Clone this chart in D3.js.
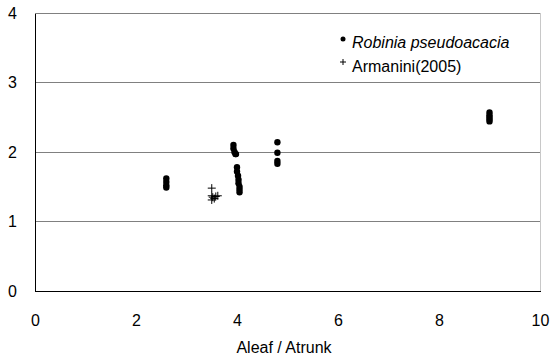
<html>
<head>
  <script src="https://d3js.org/d3.v7.min.js"></script>
  <style>
    body { margin: 0; background: #fff; }
    text { font-family: "Liberation Sans", Arial, sans-serif; }
  </style>
</head>
<body>
  <script>
    // Robinia pseudoacacia measurements
    var robiniaX = [2.6, 2.6, 2.6, 2.6,
                    3.93, 3.93, 3.95, 3.97, 3.98,
                    4.0, 4.0, 4.02, 4.03, 4.03, 4.05, 4.05, 4.05,
                    4.8, 4.8, 4.8, 4.8,
                    9.0, 9.0, 9.0, 9.0, 9.0];
    var robiniaY = [1.62, 1.57, 1.52, 1.49,
                    2.1, 2.05, 2.0, 1.97, 1.97,
                    1.78, 1.72, 1.66, 1.6, 1.55, 1.5, 1.46, 1.42,
                    2.14, 1.99, 1.87, 1.83,
                    2.57, 2.53, 2.5, 2.47, 2.44];
    // Armanini (2005)
    var armaniniX = [3.5, 3.5, 3.52, 3.5, 3.58, 3.62, 3.55];
    var armaniniY = [1.48, 1.37, 1.35, 1.31, 1.36, 1.37, 1.33];

    var xTicks = [0, 2, 4, 6, 8, 10];
    var yTicks = [0, 1, 2, 3, 4];

    var W = 551, H = 361;
    var mLeft = 35, mRight = 540, mTop = 13, mBottom = 291;

    var svg = d3.select('body').append('svg')
      .attr('width', W).attr('height', H);

    var x = d3.scaleLinear().domain([0, 10]).range([mLeft, mRight]);
    var y = d3.scaleLinear().domain([0, 4]).range([mBottom, mTop]);

    // gridlines
    svg.selectAll('line.grid')
      .data(yTicks.slice(1))
      .enter().append('line')
        .attr('class', 'grid')
        .attr('x1', mLeft).attr('x2', mRight)
        .attr('y1', function(d){ return y(d); })
        .attr('y2', function(d){ return y(d); })
        .attr('stroke', '#808080').attr('stroke-width', 1)
        .attr('shape-rendering', 'crispEdges');

    // right border
    svg.append('line')
      .attr('x1', mRight).attr('x2', mRight)
      .attr('y1', mTop).attr('y2', mBottom)
      .attr('stroke', '#c8c8c8')
      .attr('shape-rendering', 'crispEdges');

    // axes
    var yAxis = svg.append('g')
      .attr('transform', 'translate(' + mLeft + ',0)')
      .call(d3.axisLeft(y).tickValues(yTicks).tickFormat(d3.format('d')).tickSize(0).tickPadding(18));
    var xAxis = svg.append('g')
      .attr('transform', 'translate(0,' + mBottom + ')')
      .call(d3.axisBottom(x).tickValues(xTicks).tickFormat(d3.format('d')).tickSize(0).tickPadding(24));
    [yAxis, xAxis].forEach(function(g){
      g.select('.domain').attr('stroke', '#000').attr('shape-rendering', 'crispEdges');
      g.selectAll('text').attr('font-size', 16).attr('fill', '#000')
        .style('font-family', '"Liberation Sans", Arial, sans-serif');
    });

    svg.append('text')
      .attr('x', 284).attr('y', 353)
      .attr('text-anchor', 'middle')
      .attr('font-size', 16)
      .text('Aleaf / Atrunk');

    // points
    svg.selectAll('circle.rob')
      .data(robiniaX)
      .enter().append('circle')
        .attr('class', 'rob')
        .attr('cx', function(d){ return x(d); })
        .attr('cy', function(d, i){ return y(robiniaY[i]); })
        .attr('r', 3.2)
        .attr('fill', '#000');

    svg.selectAll('path.arm')
      .data(armaniniX)
      .enter().append('path')
        .attr('class', 'arm')
        .attr('transform', function(d, i){ return 'translate(' + x(d) + ',' + y(armaniniY[i]) + ')'; })
        .attr('d', 'M-4,0H4M0,-4V4')
        .attr('stroke', '#000').attr('stroke-width', 1).attr('fill', 'none');

    // legend
    var leg = svg.append('g');
    leg.append('circle').attr('cx', 343).attr('cy', 39).attr('r', 2.5).attr('fill', '#000');
    leg.append('text').attr('x', 352).attr('y', 48).attr('font-size', 16)
      .attr('font-style', 'italic').text('Robinia pseudoacacia');
    leg.append('path').attr('d', 'M340,62H346M343,59V65')
      .attr('stroke', '#000').attr('stroke-width', 1);
    leg.append('text').attr('x', 352).attr('y', 72).attr('font-size', 16)
      .text('Armanini(2005)');
  </script>
</body>
</html>
